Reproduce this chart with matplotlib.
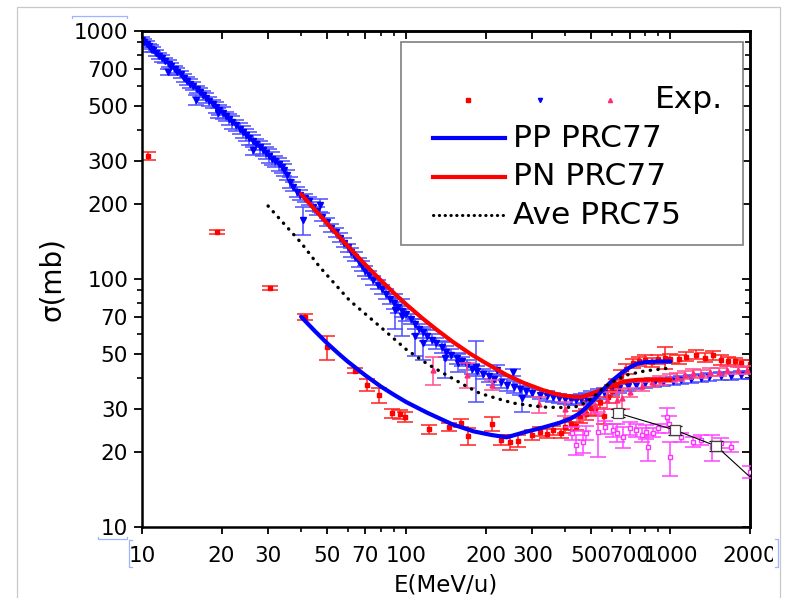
import matplotlib
matplotlib.use('Agg')
import matplotlib.pyplot as plt
from matplotlib.patches import Rectangle
from matplotlib.lines import Line2D
from matplotlib.ticker import FixedLocator, FixedFormatter, NullFormatter
from matplotlib.transforms import Bbox, TransformedBbox

plt.rcParams['font.family'] = ['DejaVu Sans']

# ---- experimental data (E in MeV/u, sigma in mb, error) ----
pp_E = [10.0, 10.2, 10.4, 10.6, 10.8, 11.0, 11.3, 11.6, 11.9, 12.2, 12.5, 12.6, 12.9, 13.3, 13.6,
        14.0, 14.4, 14.8, 15.2, 15.6, 16.0, 16.1, 16.6, 17.0, 17.5, 18.0, 18.5, 19.0, 19.4, 19.6,
        20.2, 20.8, 21.4, 22.0, 22.7, 23.4, 24.1, 24.8, 25.5, 26.3, 26.3, 27.1, 27.9, 28.7, 29.5,
        30.3, 31.1, 32.0, 32.9, 33.8, 34.6, 35.5, 36.3, 37.4, 38.6, 39.5, 40.6, 41.5, 43.0, 44.5,
        46.0, 47.0, 48.0, 50.0, 52.0, 54.0, 56.0, 58.0, 60.0, 62.0, 64.0, 66.0, 68.0, 70.0, 72.0,
        75.0, 78.0, 81.0, 84.0, 87.0, 90.0, 91.0, 93.0, 96.0, 96.0, 100, 104, 108, 108, 112,
        116, 116, 120, 125, 130, 136, 140, 142, 148, 155, 157, 162, 170, 178, 184,
        186, 195, 205, 215, 220, 228, 240, 253, 255, 270, 275, 285, 300, 320, 340,
        360, 380, 400, 420, 440, 460, 480, 500, 530, 560, 600, 640, 690, 740, 800,
        870, 940, 1020, 1100, 1200, 1300, 1400, 1550, 1700, 1850, 2000]
pp_sig = [920, 905, 885, 868, 850, 840, 815, 795, 777, 760, 684, 738, 722, 700, 685,
          668, 648, 630, 613, 598, 527, 582, 566, 550, 536, 521, 508, 494, 467, 480,
          468, 453, 440, 428, 416, 404, 392, 381, 370, 331, 360, 350, 340, 331, 322,
          314, 306, 298, 290, 283, 276, 262, 245, 236, 224, 219, 173, 213, 206, 196,
          188, 199, 178, 170, 161, 154, 147, 140, 134, 128, 123, 117, 113, 108, 104,
          99, 95, 91, 87, 83, 80, 75, 77, 71, 74, 72, 69, 59, 66, 63,
          55, 61, 59, 57, 55, 53, 48, 51, 49.5, 48, 46, 46.5, 45, 43.5, 44,
          42.5, 41.5, 40.5, 39.5, 43, 38.5, 37.5, 42, 36.8, 36, 33, 35.3, 34.8, 34.2, 33.7,
          33.3, 33, 32.7, 32.5, 32.6, 32.8, 33.2, 33.8, 34.4, 35, 35.6, 36.3, 37, 37.5, 37.9,
          38.2, 38.5, 38.8, 39.2, 39.6, 40, 40.2, 40.6, 40.8, 41, 41]
pp_err = [25, 20, 25, 22, 25, 20, 25, 22, 25, 20, 20, 25, 22, 25, 22,
          20, 25, 22, 25, 22, 25, 20, 25, 22, 25, 22, 20, 25, 20, 22,
          25, 20, 22, 25, 22, 20, 22, 20, 22, 15, 20, 18, 20, 18, 18,
          20, 18, 16, 18, 16, 15, 12, 12, 10, 10, 10, 22, 8, 8, 8,
          7, 12, 7, 7, 6, 6, 6, 6, 5, 5, 5, 5, 5, 5, 4,
          4, 4, 4, 4, 4, 4, 12, 4, 12, 4, 4, 3, 10, 3, 3,
          8, 3, 3, 3, 3, 2.5, 8, 2.5, 2.5, 2.5, 4, 2, 2, 2, 12,
          2, 2, 2, 2, 2, 2, 2, 1.5, 2, 2, 4, 1.5, 1.5, 1.5, 1.5,
          1.5, 1.5, 1.5, 1.5, 1.5, 1.5, 1.5, 1.5, 1.5, 1.5, 1.5, 1.5, 1.5, 1.5, 1.5,
          1.5, 1.5, 1.5, 1.5, 1.5, 1.5, 1.5, 1.5, 1.5, 1.5, 1.5]

red_E = [10.5, 19.2, 30.5, 41.5, 50, 64, 71, 79, 88, 95, 99, 122, 145, 161, 171, 211, 229, 246,
         265, 300, 320, 340, 360, 385, 400, 420, 440, 455, 480, 500, 520, 540, 560, 580, 600,
         620, 650, 680, 720, 760, 800, 850, 900, 950, 1000, 1080, 1150, 1250, 1350, 1450, 1550,
         1650, 1750, 1850, 2000]
red_sig = [313, 155, 92, 70.3, 53, 42.6, 37.4, 34, 28.8, 28.5, 27.8, 24.8, 25.3, 26.2, 23.3, 26, 22.4, 22,
           22.2, 23.5, 24.2, 23.8, 24.5, 23.9, 25.2, 26.1, 25.5, 27.8, 28.5, 30.2, 29.5, 31.8, 28, 33.5, 35.4,
           37.5, 41, 43.5, 45.8, 46.5, 47.3, 46.2, 47.5, 48.2, 47.8, 47.5, 48.6, 49.5, 48.2, 49.2, 47.2,
           46.6, 46.5, 45.8, 45.5]
red_err = [12, 3, 2, 2, 6, 1, 2.2, 2.5, 1.2, 1.2, 1.2, 1, 1, 1, 1.8, 1.7, 1, 1.5,
           1.2, 1, 1, 1, 1, 1, 1.2, 1.5, 1, 1.5, 1.5, 2, 1.5, 1.5, 2, 2, 2,
           2, 2, 2, 2, 2, 2, 2, 2, 5, 2, 2, 2, 2, 2, 2, 2,
           2, 1.5, 1.5, 1.5]

pink_E = [126, 170, 211, 318, 400, 470, 520, 575, 628, 657, 700, 780, 850, 916, 1000, 1060,
          1140, 1217, 1300, 1410, 1520, 1640, 1800, 1950]
pink_sig = [43, 41, 37.4, 31.2, 30, 29, 31, 32.5, 32.5, 33, 35, 37, 38.3, 39, 40, 40.3,
            41, 41.8, 41.5, 42.3, 42.2, 43, 42.8, 43]
pink_err = [5.5, 4.7, 1.8, 2.3, 2, 2, 2.5, 2.5, 2.5, 3, 1.5, 1.5, 1.5, 1.5, 1.5, 1.5,
            1.5, 1.5, 1.5, 1.5, 1.5, 1.5, 1.5, 1.5]

mag_E = [425, 440, 466, 480, 531, 565, 606, 630, 660, 700, 740, 780, 810, 820, 860, 900,
         968, 985, 1000, 1100, 1220, 1300, 1440, 1550, 1700, 2000]
mag_sig = [23.9, 21.5, 22.1, 24, 24.2, 25.3, 24.6, 24, 23.1, 25, 24.5, 23.5, 24.2, 21, 24, 25,
           27.7, 26, 19.1, 23, 22.1, 22.5, 21, 21.8, 21, 16.7]
mag_err = [1.5, 2, 2.2, 1.5, 5, 1.5, 1.5, 2, 2.3, 1.5, 1.5, 1.5, 1.5, 2.5, 1, 1,
           2.4, 2, 3, 1, 1, 1, 2.5, 1, 1, 1]

blk_E = [633, 1040, 1490, 2500]
blk_sig = [28.8, 24.6, 21.2, 12.8]
blk_err = [1, 1, 1, 1]

# ---- model curves ----
ppc_E = [40, 45, 50, 55, 60, 70, 80, 90, 100, 120, 150, 180, 210, 240, 280, 330, 380, 420,
         450, 480, 510, 550, 600, 650, 700, 750, 800, 900, 1000]
ppc_sig = [70.5, 61.8, 55.3, 50.4, 46.5, 40.9, 36.9, 34.1, 31.9, 28.9, 25.9, 24.3, 23.5, 23.0,
           24.1, 25.2, 26.3, 27.4, 28.6, 30.3, 32.4, 35.4, 38.8, 41.6, 44.0, 45.6, 46.2, 46.5, 46.5]

pnc_E = [40, 50, 60, 70, 80, 90, 100, 115, 130, 150, 175, 200, 240, 280, 330, 380, 430,
         460, 500, 550, 600, 650, 700, 750, 800, 900, 1000]
pnc_sig = [220, 168.3, 136.0, 114.2, 98.9, 87.6, 79.0, 69.5, 62.6, 55.8, 49.9, 45.8, 41.0, 38.0,
           35.6, 34.1, 33.5, 33.4, 34.4, 35.8, 37.1, 38.2, 38.9, 39.2, 39.3, 39.3, 39.2]

ave_E = [30, 35, 40, 47, 61, 80, 100, 120, 142, 170, 190, 220, 254, 300, 340, 400, 442, 480,
         520, 560, 600, 683, 800, 968]
ave_sig = [197, 164, 140, 112, 82, 64, 52, 45.5, 41, 36.8, 34.6, 33, 31.6, 30.8, 30.4, 30.3,
           30.6, 31.8, 34, 36.5, 38.3, 41, 42.6, 43.6]

xticks = [10, 20, 30, 50, 70, 100, 200, 300, 500, 700, 1000, 2000]
xminor = [40, 60, 80, 90, 400, 600, 800, 900]
yticks = [10, 20, 30, 50, 70, 100, 200, 300, 500, 700, 1000]
yminor = [40, 60, 80, 90, 400, 600, 800, 900]

fig = plt.figure(figsize=(7.94, 5.98), dpi=100)
ax = fig.add_axes([142 / 794, 1 - 527 / 598, 608 / 794, 496 / 598])
ax.set_xscale('log')
ax.set_yscale('log')

cap = 6
ax.errorbar(pp_E, pp_sig, yerr=pp_err, fmt='v', ms=4, color='#0000ff', ecolor='#4d4dff',
            elinewidth=1.1, capsize=cap, capthick=1.1, zorder=2)
ax.errorbar(red_E, red_sig, yerr=red_err, fmt='s', ms=3, color='#ff0000', ecolor='#ff2020',
            elinewidth=1.1, capsize=cap, capthick=1.1, zorder=2)
ax.errorbar(pink_E, pink_sig, yerr=pink_err, fmt='^', ms=3.5, color='#ff2b7a', ecolor='#ff4d8f',
            elinewidth=1.1, capsize=cap, capthick=1.1, zorder=3)
ax.errorbar(mag_E, mag_sig, yerr=mag_err, fmt='s', ms=3, color='#ff33ff', mfc='white',
            mec='#ff33ff', ecolor='#ff44ff', elinewidth=1.1, capsize=cap, capthick=1.1, zorder=3)
ax.errorbar(blk_E, blk_sig, yerr=blk_err, fmt='s-', ms=7, color='black', lw=0.8, mfc='white',
            mec='#444444', mew=0.9, ecolor='black', elinewidth=0.9, capsize=5, zorder=4)

ax.plot(pnc_E, pnc_sig, color='#ff0000', lw=3.0, zorder=5, solid_capstyle='round')
ax.plot(ppc_E, ppc_sig, color='#0000ff', lw=3.0, zorder=6, solid_capstyle='round')
ax.plot(ave_E, ave_sig, color='black', lw=2.4, linestyle=(0, (0.1, 2.2)),
        dash_capstyle='round', zorder=7)

ax.set_xlim(10, 2000)
ax.set_ylim(10, 1000)

for s in ax.spines.values():
    s.set_linewidth(1.8)

ax.xaxis.set_major_locator(FixedLocator(xticks))
ax.xaxis.set_major_formatter(FixedFormatter([str(v) for v in xticks]))
ax.xaxis.set_minor_locator(FixedLocator(xminor))
ax.xaxis.set_minor_formatter(NullFormatter())
ax.yaxis.set_major_locator(FixedLocator(yticks))
ax.yaxis.set_major_formatter(FixedFormatter([str(v) for v in yticks]))
ax.yaxis.set_minor_locator(FixedLocator(yminor))
ax.yaxis.set_minor_formatter(NullFormatter())
ax.tick_params(axis='x', which='major', direction='out', length=5, width=1.3, pad=9, labelsize=15.5)
ax.tick_params(axis='x', which='minor', direction='out', length=3.5, width=1.2)
ax.tick_params(axis='y', which='major', direction='out', length=6, width=1.3, pad=4, labelsize=15.5)
ax.tick_params(axis='y', which='minor', direction='out', length=3.5, width=1.2)

# mirrored axes with inward ticks
top = ax.secondary_xaxis('top')
top.xaxis.set_major_locator(FixedLocator(xticks))
top.xaxis.set_minor_locator(FixedLocator(xminor))
top.xaxis.set_major_formatter(NullFormatter())
top.xaxis.set_minor_formatter(NullFormatter())
top.tick_params(which='major', direction='in', length=6, width=1.3)
top.tick_params(which='minor', direction='in', length=3.5, width=1.2)
top.spines['top'].set_linewidth(1.8)
right = ax.secondary_yaxis('right')
right.yaxis.set_major_locator(FixedLocator(yticks))
right.yaxis.set_minor_locator(FixedLocator(yminor))
right.yaxis.set_major_formatter(NullFormatter())
right.yaxis.set_minor_formatter(NullFormatter())
right.tick_params(which='major', direction='in', length=6, width=1.3)
right.tick_params(which='minor', direction='in', length=3.5, width=1.2)
right.spines['right'].set_linewidth(1.8)

ax.set_xlabel('E(MeV/u)', fontsize=16.5)
ax.xaxis.set_label_coords(0.5, -0.093)
ax.set_ylabel('\u03c3(mb)', fontsize=20)
ax.yaxis.set_label_coords(-0.125, 0.5)

# legend box drawn like the original (Origin style)
ax.add_patch(Rectangle((0.426, 0.5685), 0.5625, 0.4095, transform=ax.transAxes,
                       facecolor='white', edgecolor='#7f7f7f', lw=1.2, zorder=10))
ax.add_line(Line2D([0.536], [0.861], transform=ax.transAxes, marker='s', ms=2.5, color='#ff0000', lw=0, zorder=11))
ax.add_line(Line2D([0.655], [0.861], transform=ax.transAxes, marker='v', ms=3, color='#0000ff', lw=0, zorder=11))
ax.add_line(Line2D([0.770], [0.861], transform=ax.transAxes, marker='^', ms=3, color='#ff2b7a', lw=0, zorder=11))
ax.text(0.844, 0.861, 'Exp.', transform=ax.transAxes, fontsize=22.5, va='center', ha='left', zorder=12)
leg_rows = [('PP PRC77', '#0000ff', '-', 0.784), ('PN PRC77', '#ff0000', '-', 0.706),
            ('Ave PRC75', 'black', (0, (0.1, 1.8)), 0.629)]
for lab, col, ls, yy in leg_rows:
    ax.add_line(Line2D([0.4786, 0.597], [yy, yy], transform=ax.transAxes, color=col,
                       lw=3.0 if ls == '-' else 2.2, linestyle=ls, dash_capstyle='round', zorder=11))
    ax.text(0.610, yy, lab, transform=ax.transAxes, fontsize=22.5, va='center', ha='left', zorder=12)

# screenshot frame and selection marks
def fx(x):
    return x / 794

def fy(y):
    return 1 - y / 598

fig.add_artist(Rectangle((fx(17), fy(600)), fx(780) - fx(17), fy(7) - fy(600), fill=False,
                         edgecolor='#c8c8c8', lw=0.9, transform=fig.transFigure))
marks = [[(72, 18), (72, 16), (127, 16), (127, 18)],
         [(98, 537), (98, 539), (127, 539), (127, 537)],
         [(132, 540), (129, 540), (129, 567), (132, 567)],
         [(775, 539), (778, 539), (778, 567), (775, 567)]]
for m in marks:
    fig.add_artist(Line2D([fx(p[0]) for p in m], [fy(p[1]) for p in m], color='#9fb3ff',
                          lw=0.9, transform=fig.transFigure))

fig.canvas.draw()
lbl = ax.xaxis.get_majorticklabels()[-1]
lbl.set_clip_box(TransformedBbox(Bbox.from_extents(0, 0, fx(773), 1), fig.transFigure))
lbl.set_clip_on(True)

fig.savefig('out.png', dpi=100, facecolor='white')
